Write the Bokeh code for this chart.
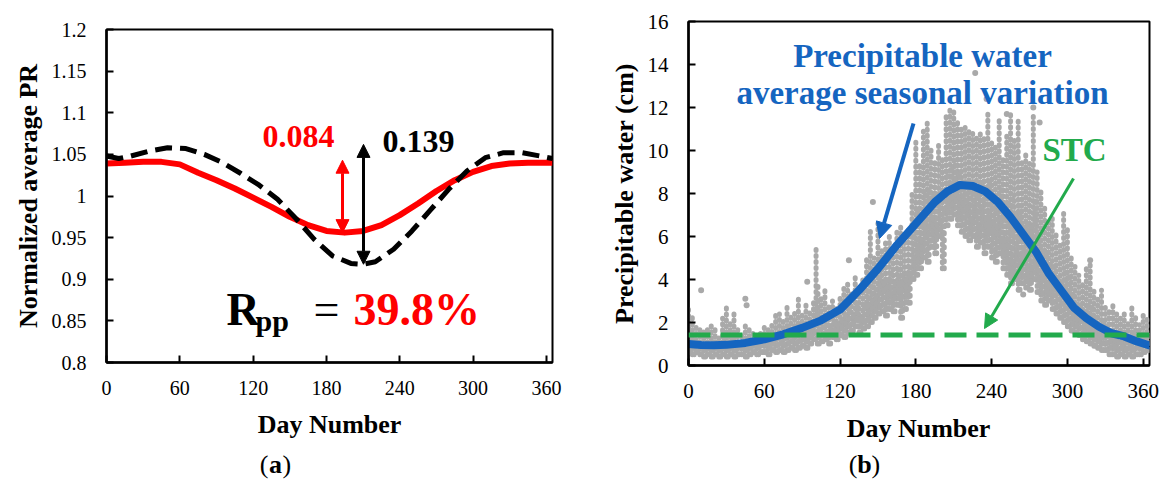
from bokeh.plotting import figure
from bokeh.layouts import row, column
from bokeh.models import (FixedTicker, Label, Arrow, NormalHead, Span)
from bokeh.embed import file_html
from bokeh.resources import INLINE

# ---------------- data: panel (a) ----------------
PR_DAY = [0, 15, 30, 45, 60, 75, 90, 105, 120, 135, 150, 165, 180, 195, 210,
          225, 240, 255, 270, 285, 300, 315, 330, 345, 365]
PR_RED = [1.039, 1.040, 1.041, 1.041, 1.038, 1.028, 1.019, 1.009, 0.998, 0.987,
          0.975, 0.965, 0.958, 0.956, 0.958, 0.965, 0.977, 0.991, 1.006, 1.019,
          1.029, 1.036, 1.039, 1.040, 1.040]
PRB_DAY = [0, 10, 20, 35, 50, 65, 80, 95, 110, 125, 140, 155, 170, 185, 200,
           210, 220, 235, 250, 265, 280, 295, 310, 325, 340, 355, 365]
PR_BLACK = [1.048, 1.045, 1.048, 1.054, 1.058, 1.057, 1.050, 1.040, 1.027, 1.013,
            0.996, 0.973, 0.948, 0.928, 0.919, 0.918, 0.921, 0.936, 0.958, 0.983,
            1.008, 1.030, 1.046, 1.052, 1.052, 1.048, 1.045]
A_XTICKS = [0, 60, 120, 180, 240, 300, 360]
A_YTICKS = [0.8, 0.85, 0.9, 0.95, 1.0, 1.05, 1.1, 1.15, 1.2]
A_YLABELS = ["0.8", "0.85", "0.9", "0.95", "1", "1.05", "1.1", "1.15", "1.2"]
RED_SWING = (0.956, 1.043)
BLACK_SWING = (0.918, 1.062)

# ---------------- data: panel (b) ----------------
SEAS_DAY = [0, 10, 20, 30, 45, 60, 75, 90, 105, 120, 135, 150, 165, 180, 195,
            205, 215, 225, 235, 245, 255, 265, 275, 285, 295, 305, 315, 325,
            335, 345, 355, 365]
SEAS_PW = [1.0, 0.95, 0.94, 0.96, 1.05, 1.22, 1.45, 1.75, 2.1, 2.6, 3.5, 4.5,
           5.6, 6.6, 7.6, 8.1, 8.4, 8.35, 8.1, 7.6, 6.9, 6.1, 5.3, 4.3, 3.5,
           2.7, 2.2, 1.8, 1.5, 1.35, 1.12, 0.93]
STC_PW = 1.42
OBS_DAY = [0, 3, 6, 9, 12, 15, 18, 21, 24, 27, 30, 33, 36, 39, 42, 45, 48, 51,
           54, 57, 60, 63, 66, 69, 72, 75, 78, 81, 84, 87, 90, 93, 96, 99, 101,
           102, 105, 108, 111, 114, 117, 120, 123, 126, 129, 132, 135, 138, 141,
           144, 147, 150, 153, 156, 159, 162, 165, 168, 171, 174, 177, 180, 183,
           186, 189, 192, 195, 198, 201, 204, 207, 210, 213, 216, 219, 222, 225,
           228, 231, 234, 237, 240, 243, 246, 249, 252, 255, 258, 261, 264, 267,
           270, 273, 276, 279, 282, 285, 288, 291, 294, 297, 300, 303, 306, 309,
           312, 315, 318, 321, 324, 327, 330, 333, 336, 339, 342, 345, 348, 351,
           354, 357, 360, 363]
OBS_LO = [0.6, 0.5, 0.6, 0.5, 0.4, 0.5, 0.4, 0.5, 0.4, 0.5, 0.4, 0.5, 0.4, 0.5,
          0.5, 0.4, 0.5, 0.6, 0.5, 0.6, 0.6, 0.5, 0.7, 0.6, 0.7, 0.6, 0.7, 0.8,
          0.7, 0.8, 0.9, 0.8, 1.0, 1.2, 2.0, 1.0, 1.1, 1.2, 1.0, 1.3, 1.2, 1.4,
          1.3, 1.5, 1.6, 1.8, 1.5, 1.7, 1.8, 2.0, 2.2, 2.4, 2.5, 2.3, 2.6, 2.5,
          2.8, 2.2, 2.6, 2.9, 4.0, 4.2, 4.5, 5.0, 4.8, 5.5, 5.2, 6.0, 4.5, 6.5,
          6.8, 7.0, 6.5, 6.2, 6.0, 5.8, 6.0, 5.5, 5.7, 5.2, 5.5, 5.0, 4.8, 5.2,
          4.5, 4.2, 3.8, 4.0, 3.5, 3.8, 3.6, 3.5, 4.0, 3.4, 3.0, 2.8, 3.0, 2.6,
          2.4, 2.2, 2.0, 1.8, 1.6, 1.5, 1.4, 1.2, 1.1, 1.0, 0.9, 0.8, 0.7, 0.7,
          0.5, 0.5, 0.4, 0.5, 0.4, 0.5, 0.4, 0.5, 0.5, 0.6, 0.7]
OBS_HI = [2.6, 2.3, 1.9, 1.7, 1.6, 1.8, 2.0, 1.7, 1.5, 2.2, 2.9, 2.0, 2.4, 1.8,
          1.6, 2.0, 1.7, 1.5, 1.6, 1.7, 1.8, 1.7, 2.0, 2.5, 2.4, 2.2, 2.9, 2.3,
          2.6, 3.1, 2.5, 2.8, 2.6, 3.0, 5.6, 2.7, 3.3, 3.6, 2.8, 3.0, 2.7, 3.3,
          3.7, 4.0, 3.5, 4.1, 3.4, 4.2, 5.1, 6.4, 5.0, 6.6, 5.4, 5.8, 6.0, 5.5,
          6.3, 6.6, 5.9, 6.5, 8.0, 10.6, 9.5, 10.9, 11.4, 10.2, 9.6, 10.4, 9.8,
          11.6, 11.9, 12.0, 11.5, 11.0, 11.2, 10.9, 11.0, 10.8, 11.0, 10.6, 11.7,
          10.5, 10.2, 11.4, 9.8, 10.8, 11.7, 10.5, 11.4, 9.5, 10.0, 9.4, 11.7,
          9.0, 8.2, 7.5, 6.8, 7.0, 6.3, 5.8, 7.2, 6.4, 5.0, 4.6, 4.2, 3.8, 4.5,
          4.9, 3.6, 3.2, 3.5, 2.9, 2.6, 2.9, 2.4, 2.2, 2.4, 2.0, 2.9, 2.3, 1.9,
          2.5, 2.2]
OUT_DAY = [10, 45, 46, 94, 127, 146, 185, 227, 236, 252, 273, 278, 265, 318]
OUT_PW = [3.5, 3.1, 2.8, 3.9, 4.9, 7.6, 12.3, 13.6, 12.4, 11.7, 12.0, 11.3, 3.3, 4.9]
B_XTICKS = [0, 60, 120, 180, 240, 300, 360]
B_YTICKS = [0, 2, 4, 6, 8, 10, 12, 14, 16]

SERIF = "Liberation Serif"
RED = "#FF0000"
BLUE = "#1565C0"
GREEN = "#22AA4C"
GRAY = "#A9A9A9"

TOP_H = 410   # height of the two chart panels; text strip below


def style(p, xticks, yticks, tick_size, ylab_size, xstand):
    p.xgrid.visible = False
    p.ygrid.visible = False
    p.outline_line_color = "black"
    p.outline_line_width = 2
    p.background_fill_color = "white"
    p.border_fill_color = "white"
    for ax in (p.xaxis[0], p.yaxis[0]):
        ax.axis_line_width = 2.5
        ax.axis_line_color = "black"
        ax.major_tick_in = 7
        ax.major_tick_out = 0
        ax.major_tick_line_width = 2
        ax.minor_tick_line_color = None
        ax.major_label_text_font = SERIF
        ax.major_label_text_font_size = tick_size
        ax.major_label_text_color = "black"
        ax.axis_label_text_font = SERIF
        ax.axis_label_text_font_style = "bold"
        ax.axis_label_text_color = "black"
    p.yaxis[0].axis_label_text_font_size = ylab_size
    p.xaxis[0].ticker = FixedTicker(ticks=xticks)
    p.yaxis[0].ticker = FixedTicker(ticks=yticks)
    p.xaxis[0].major_label_standoff = xstand
    p.yaxis[0].major_label_standoff = 20
    p.yaxis[0].axis_label_standoff = 6


def alabel(p, conv, px, py, text, size, color="black", bold=True, align="left"):
    # py is the wanted glyph baseline in page pixels; Bokeh's baseline sits lower
    x, y = conv(px, py - 0.39 * size)
    p.add_layout(Label(x=x, y=y, text=text, text_font=SERIF,
                       text_font_size="%dpx" % size,
                       text_font_style="bold" if bold else "normal",
                       text_color=color, text_align=align,
                       text_baseline="alphabetic"))


# ---------------- panel (a) ----------------
AL, AT, AW, AH = 106, 29, 446, 333
pa = figure(width=580, height=TOP_H,
            min_border_left=AL, min_border_top=AT, min_border_right=580 - AL - AW,
            min_border_bottom=TOP_H - AT - AH,
            x_range=(0, 365), y_range=(0.8, 1.2),
            output_backend="svg", toolbar_location=None,
            y_axis_label="Normalized average PR")
style(pa, A_XTICKS, A_YTICKS, "20px", "26px", 18)
pa.yaxis[0].major_label_overrides = {t: s for t, s in zip(A_YTICKS, A_YLABELS)}


def a_xy(px, py):
    return (px - AL) * 365.0 / AW, 1.2 - (py - AT) * 0.4 / AH


pa.line(PR_DAY, PR_RED, line_color=RED, line_width=6, line_join="round")
pa.line(PRB_DAY, PR_BLACK, line_color="black", line_width=5, line_dash="17 8")

dr = a_xy(342, 0)[0]
db = a_xy(363, 0)[0]
pa.add_layout(Arrow(x_start=dr, y_start=RED_SWING[0], x_end=dr, y_end=RED_SWING[1],
                    line_color=RED, line_width=3,
                    start=NormalHead(size=13, fill_color=RED, line_color=RED),
                    end=NormalHead(size=13, fill_color=RED, line_color=RED)))
pa.add_layout(Arrow(x_start=db, y_start=BLACK_SWING[0], x_end=db, y_end=BLACK_SWING[1],
                    line_color="black", line_width=3,
                    start=NormalHead(size=13, fill_color="black", line_color="black"),
                    end=NormalHead(size=13, fill_color="black", line_color="black")))

alabel(pa, a_xy, 262, 148, "0.084", 32, RED)
alabel(pa, a_xy, 382, 153, "0.139", 32, "black")
alabel(pa, a_xy, 226, 327, "R", 46)
alabel(pa, a_xy, 255, 332, "pp", 30)
alabel(pa, a_xy, 313, 327, "=", 46, bold=False)
alabel(pa, a_xy, 353, 327, "39.8%", 46, RED)

# ---------------- panel (b) ----------------
BL, BT, BW, BH = 108, 21, 461, 344
pb = figure(width=586, height=TOP_H,
            min_border_left=BL, min_border_top=BT, min_border_right=586 - BL - BW,
            min_border_bottom=TOP_H - BT - BH,
            x_range=(0, 365), y_range=(0, 16),
            output_backend="svg", toolbar_location=None,
            y_axis_label="Precipitable water (cm)")
style(pb, B_XTICKS, B_YTICKS, "21px", "26px", 18)


def b_xy(px, py):
    return (px - 688) * 365.0 / BW, 16 - (py - BT) * 16.0 / BH


pb.segment(x0=OBS_DAY, y0=OBS_LO, x1=OBS_DAY, y1=OBS_HI, line_color=GRAY,
           line_width=5, line_cap="round", line_dash="1 5")
pb.segment(x0=[d + 1.5 for d in OBS_DAY], y0=OBS_LO, x1=[d + 1.5 for d in OBS_DAY],
           y1=[(lo + hi) / 2 for lo, hi in zip(OBS_LO, OBS_HI)], line_color=GRAY,
           line_width=5, line_cap="round", line_dash="1 6")
pb.scatter(OUT_DAY, OUT_PW, size=6, fill_color=GRAY, line_color=None)
pb.line(SEAS_DAY, SEAS_PW, line_color=BLUE, line_width=8, line_join="round",
        line_cap="round")
pb.add_layout(Span(location=STC_PW, dimension="width", line_color=GREEN,
                   line_width=5, line_dash="22 10"))

x0, y0 = b_xy(913, 123)
x1, y1 = b_xy(879, 238)
pb.add_layout(Arrow(x_start=x0, y_start=y0, x_end=x1, y_end=y1, line_color=BLUE,
                    line_width=4,
                    end=NormalHead(size=16, fill_color=BLUE, line_color=BLUE)))
x0, y0 = b_xy(1073, 178)
x1, y1 = b_xy(984, 328)
pb.add_layout(Arrow(x_start=x0, y_start=y0, x_end=x1, y_end=y1, line_color=GREEN,
                    line_width=3,
                    end=NormalHead(size=14, fill_color=GREEN, line_color=GREEN)))

alabel(pb, b_xy, 922, 68, "Precipitable water", 33, BLUE, align="center")
alabel(pb, b_xy, 922, 105, "average seasonal variation", 33, BLUE, align="center")
alabel(pb, b_xy, 1042, 162, "STC", 33, GREEN)

# ---------------- text strip: x-axis titles and captions ----------------
cap = figure(width=1166, height=481 - TOP_H, x_range=(0, 1166), y_range=(481, TOP_H),
             min_border=0, x_axis_type=None, y_axis_type=None,
             output_backend="svg", toolbar_location=None)
cap.outline_line_color = None
cap.xgrid.visible = False
cap.ygrid.visible = False


def c_xy(px, py):
    return px, py


alabel(cap, c_xy, 329, 434, "Day Number", 26, align="center")
alabel(cap, c_xy, 918, 438, "Day Number", 26, align="center")
for cx, letter in ((275, "a"), (864, "b")):
    alabel(cap, c_xy, cx, 474, letter, 26, align="center")
    alabel(cap, c_xy, cx - 7, 474, "(", 26, bold=False, align="right")
    alabel(cap, c_xy, cx + 7, 474, ")", 26, bold=False, align="left")

# each panel in its own column so the row does not line up their frames
layout = column(row(column(pa), column(pb)), cap)
open("out.html", "w").write(file_html(layout, INLINE))
